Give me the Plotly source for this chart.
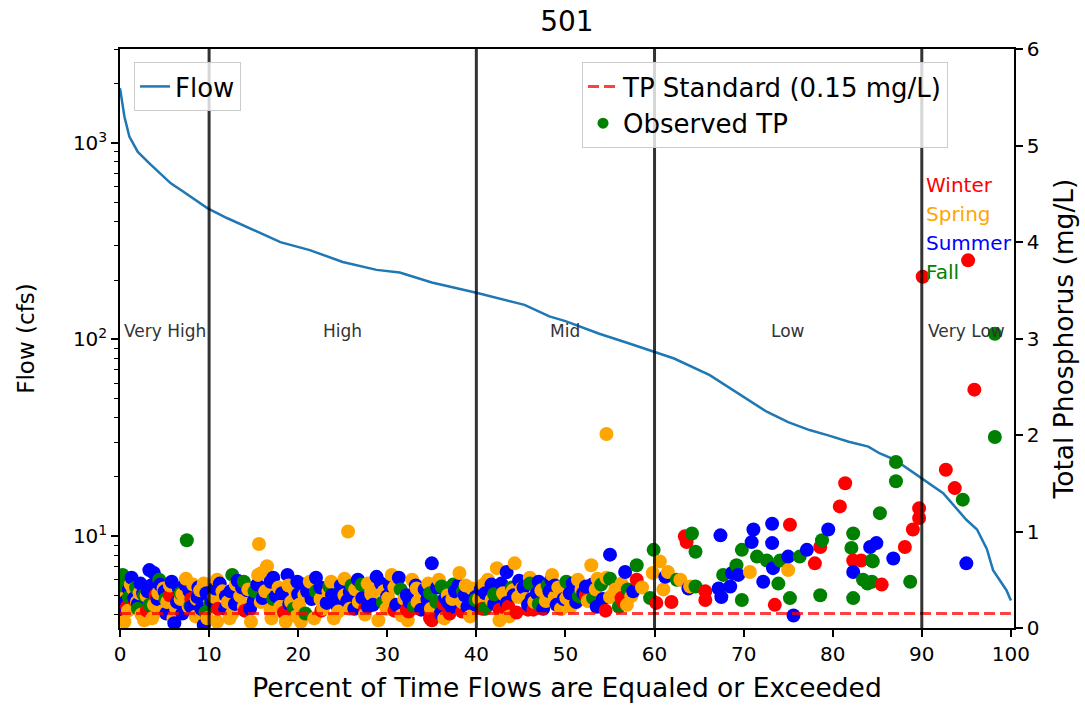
import math
import plotly.graph_objects as go

# ---------------- data ----------------
chart_title = "501"
pct_range = [0, 100]

flow_pct = [0, 0.5, 1.05, 2.0, 3.3, 4.5, 5.7, 7.0, 8.2, 9.8, 12.0, 14.5, 18.0, 21.3, 25.0,
            28.8, 31.4, 35.0, 40.0, 45.4, 48.2, 50.0, 53.8, 57.0, 60.0, 62.2, 66.2, 69.4,
            72.6, 75.0, 77.4, 79.5, 81.8, 84.0, 85.3, 87.0, 88.6, 90.0, 92.4, 95.0, 96.2,
            97.3, 98.0, 99.5, 100.0]
flow_cfs = [1900, 1360, 1077, 900, 788, 700, 623, 570, 523, 466, 415, 368, 313, 285, 248,
            226, 219, 195, 173, 150, 131, 124, 107, 96, 86.7, 80, 65.9, 53.2,
            42.9, 38.0, 34.6, 32.5, 30.2, 28.5, 26.3, 24.4, 21.7, 19.7, 16.5, 12.1, 10.8,
            8.6, 6.7, 5.3, 4.7]

boundaries = [10, 40, 60, 90]
regime_labels = ["Very High", "High", "Mid", "Low", "Very Low"]
regime_label_flow = 100
tp_standard = 0.15

season_names = ["Winter", "Spring", "Summer", "Fall"]
season_colors = ["red", "orange", "blue", "green"]

winter_pct = [0.3, 0.8, 1.6, 3.0, 4.0, 5.6, 8.0, 11.0, 14.0, 18.4, 22.6, 27.5, 30.8, 32.2,
              32.4, 34.8, 35.0, 36.3, 37.0, 38.4, 40.7, 42.6, 43.6, 44.5, 45.8, 46.4, 49.5,
              52.3, 54.5, 56.3, 56.5, 58.0, 60.2, 61.9, 63.4, 63.6, 65.7, 65.7, 73.5, 75.2,
              78.0, 78.6, 80.8, 81.4, 82.3, 83.2, 85.5, 88.1, 89.0, 89.7, 89.7, 90.1, 92.7,
              93.7, 95.2, 95.9]
winter_tp = [0.13, 0.22, 0.29, 0.18, 0.34, 0.34, 0.30, 0.20, 0.18, 0.16, 0.18, 0.20, 0.18, 0.19,
             0.17, 0.10, 0.08, 0.25, 0.15, 0.17, 0.20, 0.19, 0.22, 0.16, 0.19, 0.19, 0.20,
             0.34, 0.18, 0.31, 0.27, 0.50, 0.26, 0.27, 0.95, 0.89, 0.38, 0.29, 0.24, 1.07,
             0.67, 0.84, 1.26, 1.50, 0.70, 0.70, 0.45, 0.84, 1.02, 1.14, 1.24, 3.64, 1.64,
             1.45, 3.81, 2.47]

fall_pct = [0.1, 0.1, 0.2, 0.3, 0.8, 1.0, 1.8, 2.0, 2.7, 3.3, 4.4, 5.1, 6.8, 7.5, 7.9, 9.6,
            10.1, 12.6, 13.9, 15.1, 17.2, 19.5, 20.8, 22.0, 23.5, 26.0, 27.1, 29.5, 31.5,
            33.0, 34.8, 35.5, 36.1, 37.4, 38.5, 39.9, 41.0, 42.0, 44.0, 46.0, 47.0, 48.0,
            50.1, 51.5, 53.1, 54.0, 55.0, 56.0, 57.0, 58.0, 59.5, 59.9, 62.5, 64.2, 64.6,
            64.6, 67.7, 69.2, 69.8, 69.8, 71.5, 72.6, 73.9, 74.1, 75.2, 76.3, 78.6, 78.8,
            82.1, 82.3, 82.3, 83.4, 83.9, 84.4, 84.4, 84.5, 85.3, 87.1, 87.1, 88.7, 94.6,
            98.2, 98.2]
fall_tp = [0.45, 0.39, 0.29, 0.55, 0.51, 0.32, 0.42, 0.20, 0.34, 0.24, 0.50, 0.30, 0.36, 0.91,
           0.23, 0.16, 0.25, 0.55, 0.48, 0.38, 0.30, 0.20, 0.15, 0.38, 0.43, 0.44, 0.45,
           0.27, 0.40, 0.22, 0.36, 0.27, 0.43, 0.45, 0.38, 0.29, 0.20, 0.35, 0.42, 0.46,
           0.25, 0.44, 0.48, 0.33, 0.31, 0.45, 0.51, 0.22, 0.40, 0.65, 0.31, 0.81, 0.50,
           0.98, 0.79, 0.43, 0.55, 0.65, 0.29, 0.81, 0.74, 0.70, 0.46, 0.70, 0.31, 0.74,
           0.34, 0.91, 0.83, 0.98, 0.31, 0.50, 0.46, 0.48, 0.70, 0.69, 1.19, 1.72, 1.52,
           0.48, 1.33, 3.05, 1.98]

summer_pct = [0.4, 0.7, 1.0, 1.3, 1.6, 2.0, 2.3, 2.6, 3.1, 3.3, 3.5, 3.8, 4.2, 4.5, 5.0, 5.2,
              5.8, 6.1, 6.4, 6.6, 7.0, 7.3, 7.8, 8.0, 8.7, 8.8, 9.1, 9.4, 9.7, 10.3, 10.7,
              11.2, 11.8, 11.9, 12.4, 12.9, 13.2, 13.7, 14.3, 14.6, 15.0, 15.4, 16.0, 16.2,
              16.9, 17.2, 17.5, 18.2, 18.8, 19.0, 19.9, 20.0, 20.5, 21.0, 21.5, 22.0, 22.5,
              23.2, 23.8, 24.3, 24.8, 25.5, 25.8, 26.3, 26.7, 27.2, 27.8, 28.4, 28.8, 29.3,
              30.0, 30.3, 31.0, 31.3, 32.2, 32.5, 33.2, 33.8, 34.2, 34.5, 35.0, 35.6, 36.0,
              36.5, 36.8, 37.2, 37.6, 38.0, 38.7, 39.0, 39.9, 39.9, 40.5, 41.0, 41.7, 42.0,
              42.8, 43.4, 43.4, 44.2, 44.8, 45.3, 45.8, 46.2, 46.8, 47.0, 47.5, 48.2, 48.4,
              48.8, 49.0, 49.8, 50.5, 50.8, 51.2, 52.0, 52.3, 53.0, 53.5, 54.2, 55.0, 56.7,
              57.6, 61.2, 63.8, 67.2, 67.4, 67.5, 68.5, 68.7, 69.4, 70.9, 71.1, 72.2, 73.2,
              73.2, 73.3, 75.0, 75.6, 77.1, 79.5, 82.3, 84.2, 84.9, 86.8, 95.0]
summer_tp = [0.19, 0.28, 0.40, 0.52, 0.31, 0.25, 0.46, 0.36, 0.38, 0.60, 0.44, 0.57, 0.30, 0.45,
             0.38, 0.15, 0.48, 0.05, 0.27, 0.41, 0.15, 0.45, 0.38, 0.22, 0.32, 0.42, 0.20,
             0.03, 0.36, 0.28, 0.41, 0.46, 0.20, 0.33, 0.38, 0.25, 0.49, 0.42, 0.39, 0.20,
             0.28, 0.45, 0.31, 0.41, 0.48, 0.52, 0.33, 0.36, 0.55, 0.25, 0.48, 0.35, 0.45,
             0.38, 0.30, 0.52, 0.42, 0.26, 0.34, 0.24, 0.44, 0.28, 0.37, 0.20, 0.50, 0.31,
             0.22, 0.24, 0.53, 0.46, 0.33, 0.44, 0.24, 0.52, 0.34, 0.27, 0.44, 0.19, 0.40,
             0.30, 0.67, 0.42, 0.15, 0.31, 0.27, 0.22, 0.38, 0.44, 0.34, 0.22, 0.24, 0.32,
             0.40, 0.36, 0.45, 0.25, 0.46, 0.58, 0.26, 0.34, 0.49, 0.42, 0.24, 0.30, 0.36,
             0.48, 0.20, 0.38, 0.50, 0.44, 0.24, 0.30, 0.36, 0.46, 0.27, 0.36, 0.43, 0.45,
             0.22, 0.30, 0.76, 0.58, 0.38, 0.53, 0.41, 0.41, 0.96, 0.32, 0.43, 0.57, 0.55,
             0.89, 1.02, 0.48, 1.08, 0.88, 0.62, 0.74, 0.13, 0.81, 1.02, 0.58, 0.84, 0.88,
             0.72, 0.67]

spring_pct = [0.3, 0.5, 0.9, 1.2, 1.5, 1.9, 2.2, 2.4, 2.7, 3.0, 3.6, 3.8, 4.3, 4.7, 4.9, 5.3,
              5.6, 6.0, 6.3, 6.8, 7.0, 7.4, 7.7, 8.2, 8.5, 8.6, 9.0, 9.4, 9.8, 10.6, 10.9,
              10.9, 11.5, 12.1, 12.3, 12.6, 13.0, 13.5, 13.9, 14.4, 14.7, 15.5, 15.6, 15.8,
              15.9, 16.3, 16.5, 16.9, 17.0, 17.8, 18.0, 18.6, 18.9, 19.2, 19.6, 19.8, 20.1,
              20.3, 20.7, 21.3, 21.8, 22.5, 22.8, 23.4, 23.7, 24.0, 24.5, 25.2, 25.2, 25.6,
              25.8, 26.4, 26.8, 27.5, 27.8, 28.2, 28.6, 29.0, 29.6, 29.9, 30.1, 30.5, 30.8,
              31.6, 31.9, 32.3, 32.8, 33.3, 33.4, 33.9, 34.6, 34.9, 35.8, 36.4, 36.8, 37.3,
              38.1, 38.4, 38.8, 39.3, 39.5, 40.3, 40.8, 41.3, 41.7, 42.3, 42.6, 43.0, 43.7,
              44.1, 44.3, 44.7, 45.1, 45.5, 46.0, 46.5, 47.3, 47.8, 48.5, 48.8, 49.2, 49.5,
              50.1, 50.6, 51.4, 51.8, 52.5, 52.9, 53.4, 53.6, 54.6, 54.6, 55.0, 55.6, 56.3,
              56.9, 57.4, 58.6, 59.8, 60.6, 61.0, 61.5, 62.9, 64.0, 70.7, 75.0]
spring_tp = [0.30, 0.065, 0.18, 0.45, 0.40, 0.27, 0.36, 0.14, 0.08, 0.33, 0.10, 0.24, 0.36, 0.17,
             0.41, 0.27, 0.44, 0.10, 0.20, 0.30, 0.35, 0.51, 0.22, 0.45, 0.12, 0.30, 0.39,
             0.46, 0.10, 0.32, 0.065, 0.50, 0.38, 0.27, 0.10, 0.15, 0.45, 0.33, 0.22, 0.40,
             0.065, 0.55, 0.87, 0.27, 0.57, 0.38, 0.64, 0.19, 0.10, 0.42, 0.22, 0.065, 0.44,
             0.27, 0.39, 0.12, 0.24, 0.065, 0.34, 0.48, 0.10, 0.30, 0.20, 0.38, 0.48, 0.10,
             0.17, 0.51, 0.34, 1.00, 0.20, 0.40, 0.27, 0.14, 0.46, 0.35, 0.45, 0.08, 0.38,
             0.20, 0.31, 0.55, 0.42, 0.13, 0.30, 0.08, 0.50, 0.41, 0.27, 0.36, 0.46, 0.20,
             0.50, 0.10, 0.34, 0.30, 0.57, 0.27, 0.44, 0.12, 0.41, 0.30, 0.45, 0.50, 0.29,
             0.62, 0.08, 0.36, 0.12, 0.39, 0.67, 0.32, 0.41, 0.30, 0.52, 0.27, 0.39, 0.28,
             0.55, 0.32, 0.42, 0.20, 0.31, 0.22, 0.50, 0.40, 0.28, 0.65, 0.40, 0.51, 0.52,
             2.01, 0.32, 0.40, 0.46, 0.24, 0.33, 0.42, 0.57, 0.69, 0.40, 0.58, 0.50, 0.43,
             0.58, 0.60]

season_data = {
    "Winter": (winter_pct, winter_tp),
    "Spring": (spring_pct, spring_tp),
    "Summer": (summer_pct, summer_tp),
    "Fall": (fall_pct, fall_tp),
}

# Combine all observations into one scatter, drawn in order of flow percentile
obs = []
for name, col in zip(season_names, season_colors):
    px, tp = season_data[name]
    for a, b in zip(px, tp):
        obs.append((a, b, col))
obs.sort(key=lambda r: r[0])
obs_x = [r[0] for r in obs]
obs_y = [r[1] for r in obs]
obs_c = [r[2] for r in obs]

# ---------------- figure ----------------
FONT = "DejaVu Sans"
fig = go.Figure()

fig.add_trace(go.Scatter(
    x=flow_pct, y=flow_cfs, mode="lines", name="Flow",
    line=dict(color="#1f77b4", width=2.5), yaxis="y", legend="legend"))

fig.add_trace(go.Scatter(
    x=obs_x, y=obs_y, mode="markers", yaxis="y2", showlegend=False,
    marker=dict(size=14, color=obs_c, line=dict(width=0)),
    hoverinfo="x+y", name="Observed TP"))

fig.add_trace(go.Scatter(
    x=pct_range, y=[tp_standard, tp_standard], mode="lines",
    name="TP Standard (0.15 mg/L)", yaxis="y2", legend="legend2", legendrank=1,
    line=dict(color="rgba(255,0,0,0.75)", width=3, dash="11px,5px")))

fig.add_trace(go.Scatter(
    x=[None], y=[None], mode="markers", name="Observed TP", yaxis="y2",
    legend="legend2", legendrank=2,
    marker=dict(size=11, color=season_colors[season_names.index("Fall")])))

for b in boundaries:
    fig.add_shape(type="line", xref="x", yref="paper", x0=b, x1=b, y0=0, y1=1,
                  line=dict(color="rgba(0,0,0,0.8)", width=3), layer="above")

edges = [pct_range[0]] + boundaries + [pct_range[1]]
for i, lab in enumerate(regime_labels):
    fig.add_annotation(x=(edges[i] + edges[i + 1]) / 2, y=math.log10(regime_label_flow),
                       xref="x", yref="y", text=lab, showarrow=False,
                       yanchor="bottom", yshift=-4,
                       font=dict(size=17, color="#333333", family=FONT))

season_label_y = [4.59, 4.29, 3.99, 3.69]
for name, col, yy in zip(season_names, season_colors, season_label_y):
    fig.add_annotation(x=90.2, y=yy, xref="x", yref="y2", text=name, showarrow=False,
                       xanchor="left", yanchor="middle",
                       font=dict(size=20, color=col, family=FONT))

axis_common = dict(showline=True, linecolor="black", linewidth=1.5, ticks="outside",
                   ticklen=7, tickwidth=1.5, tickcolor="black", showgrid=False,
                   zeroline=False, tickfont=dict(size=20, color="black", family=FONT))

fig.update_layout(
    width=1085, height=714,
    margin=dict(l=120, r=71, t=49, b=86),
    paper_bgcolor="white", plot_bgcolor="white",
    font=dict(family=FONT, color="black"),
    title=dict(text=chart_title, x=0.5225, xanchor="center", y=0.97, yanchor="middle",
               font=dict(size=28, family=FONT, color="black")),
    xaxis=dict(range=[0, 100.35], tickvals=list(range(0, 101, 10)), mirror=True,
               title=dict(text="Percent of Time Flows are Equaled or Exceeded",
                          font=dict(size=26.5, family=FONT), standoff=14),
               **axis_common),
    yaxis=dict(type="log", range=[0.532, 3.478], tickvals=[10, 100, 1000],
               ticktext=["10<sup>1</sup>", "10<sup>2</sup>", "10<sup>3</sup>"],
               minor=dict(ticks="outside", ticklen=4, tickwidth=1.2, tickcolor="black",
                          tickvals=[4, 5, 6, 7, 8, 9, 20, 30, 40, 50, 60, 70, 80, 90,
                                    200, 300, 400, 500, 600, 700, 800, 900, 2000, 3000]),
               title=dict(text="Flow (cfs)", font=dict(size=23, family=FONT), standoff=32),
               **axis_common),
    yaxis2=dict(overlaying="y", side="right", range=[0, 6], tickvals=list(range(0, 7)),
                title=dict(text="Total Phosphorus (mg/L)", font=dict(size=26.5, family=FONT),
                           standoff=16),
                **axis_common),
    legend=dict(x=0.0157, y=0.9775, xanchor="left", yanchor="top",
                bgcolor="rgba(255,255,255,0.8)", bordercolor="#cccccc", borderwidth=1,
                font=dict(size=26, family=FONT, color="black")),
    legend2=dict(x=0.5168, y=0.9775, xanchor="left", yanchor="top",
                 bgcolor="rgba(255,255,255,0.8)", bordercolor="#cccccc", borderwidth=1,
                 font=dict(size=26, family=FONT, color="black"), traceorder="normal"),
    showlegend=True,
)

fig.write_html("out.html")
